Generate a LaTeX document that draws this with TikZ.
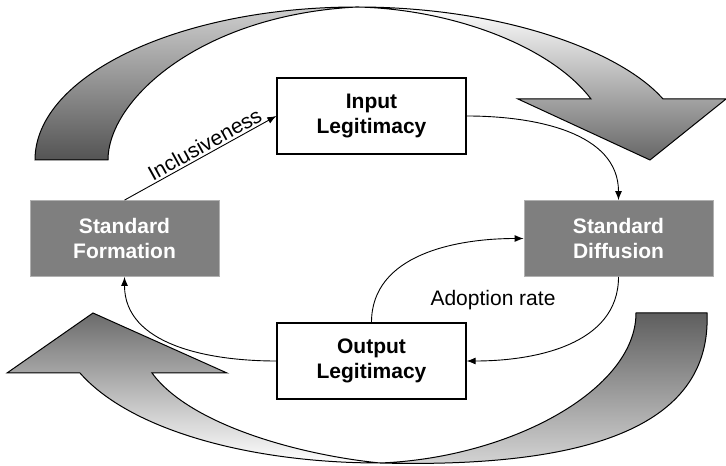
\documentclass[tikz,border=0pt]{standalone}
\usepackage{fontspec}
\setmainfont{Liberation Sans}
\usetikzlibrary{arrows.meta}
\definecolor{boxgray}{HTML}{7F7F7F}
\definecolor{boxedge}{HTML}{B0B0B0}
\tikzset{
  wbox/.style={draw=black, line width=1.3pt, fill=white, minimum width=189pt, minimum height=76pt,
    inner sep=0pt, align=center, font=\fontsize{21}{25}\selectfont\bfseries},
  gbox/.style={draw=boxedge, line width=0.8pt, fill=boxgray, text=white, minimum width=189pt, minimum height=76pt,
    inner sep=0pt, align=center, font=\fontsize{21}{25}\selectfont\bfseries},
  conn/.style={line width=0.9pt, -{Latex[length=9pt,width=7pt]}},
  bigarrow/.style={draw=black, line width=1pt, line join=miter},
  lbl/.style={font=\fontsize{21}{25}\selectfont, inner sep=2pt}
}
\begin{document}
\begin{tikzpicture}[x=1pt,y=1pt]
\useasboundingbox (0,0) rectangle (726,466);
\fill[white] (0,0) rectangle (726,466);

% top curved arrow: left band
\path[bigarrow, top color=black!19, bottom color=black!67]
  (35,306) .. controls (35,390.5) and (179.2,459) .. (357,459)
  .. controls (200,451) and (108,366) .. (108,306) -- cycle;
% top curved arrow: right band with head
\path[bigarrow, top color=white, bottom color=black!60]
  (357,459) .. controls (500,459) and (620,416) .. (663,367)
  -- (726,367) -- (650,306) -- (518,367) -- (591,367)
  .. controls (550,421) and (450,457) .. (357,459) -- cycle;

% bottom curved arrow: right band
\path[bigarrow, top color=black!63, bottom color=black!16]
  (636,153) -- (707,153) .. controls (712,36) and (580,-2) .. (380,3)
  .. controls (510,8) and (636,76) .. (636,153) -- cycle;
% bottom curved arrow: left band with head
\path[bigarrow, top color=black!58, bottom color=white]
  (380,3) .. controls (250,3) and (130,36) .. (80,93)
  -- (7,93) -- (93,153) -- (227,93) -- (152,93)
  .. controls (190,41) and (300,11) .. (380,3) -- cycle;

% boxes
\node[wbox] (inp) at (371.5,350) {Input\\Legitimacy};
\node[wbox] (outp) at (371.5,105) {Output\\Legitimacy};
\node[gbox] (form) at (124.5,227.5) {Standard\\Formation};
\node[gbox] (diff) at (618.5,227.5) {Standard\\Diffusion};

% connectors
\draw[conn] (form.north) -- node[lbl, sloped, above, pos=0.56] (incl) {Inclusiveness} (inp.west);
\draw[conn] (inp.east) to[out=0, in=90] (diff.north);
\draw[conn] (diff.south) to[out=-90, in=0] (outp.east);
\draw[conn] (outp.north) to[out=90, in=180] (diff.west);
\draw[conn] (outp.west) to[out=180, in=-90] (form.south);
\node[lbl] (adopt) at (493,166) {Adoption rate};
\end{tikzpicture}
\end{document}
